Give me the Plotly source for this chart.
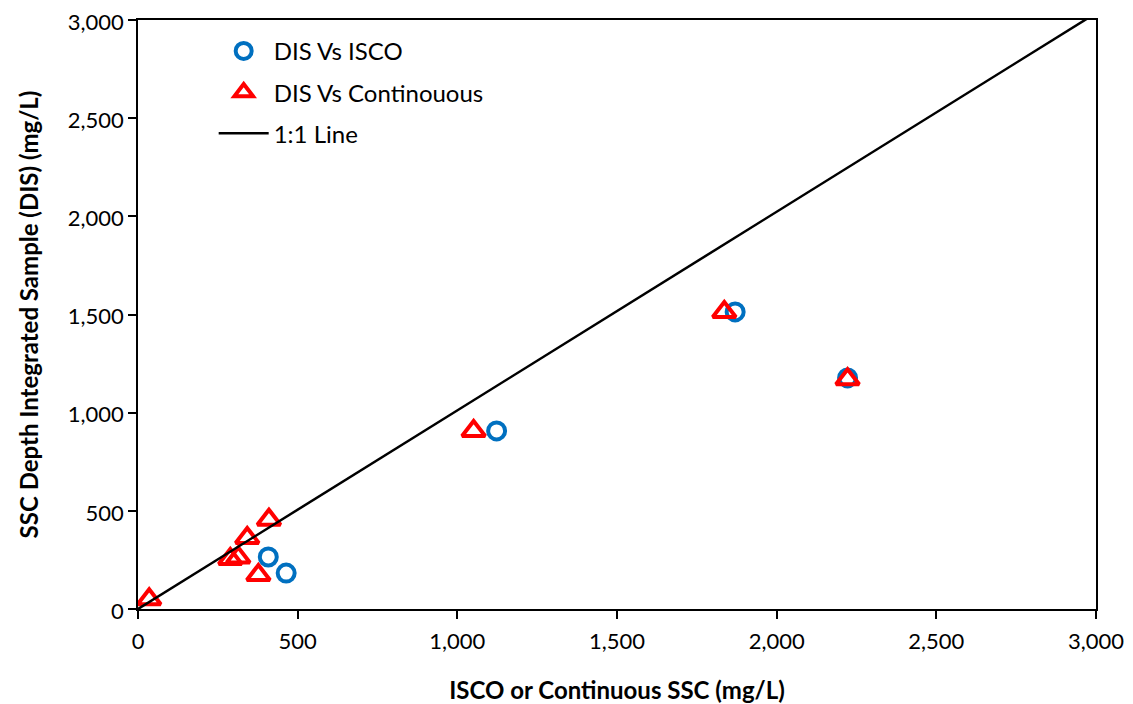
import plotly.graph_objects as go

# DIS vs ISCO
isco_x = [408, 464, 1123, 1870, 2222]
isco_y = [265, 183, 907, 1513, 1177]

# DIS vs Continuous
cont_x = [35, 410, 342, 314, 289, 377, 1051, 1836, 2222]
cont_y = [50, 455, 362, 262, 255, 173, 907, 1513, 1170]

# 1:1 line
line_x = [0, 3000]
line_y = [0, 3035]

tick_vals = [0, 500, 1000, 1500, 2000, 2500, 3000]

FONT = "Lato"

fig = go.Figure()
fig.add_trace(go.Scatter(
    x=isco_x, y=isco_y, mode="markers", name="DIS Vs ISCO",
    legendgroup="a",
    marker=dict(symbol="circle-open", size=17, color="#0070C0",
                line=dict(width=4, color="#0070C0")),
))
fig.add_trace(go.Scatter(
    x=cont_x, y=cont_y, mode="markers", name="DIS Vs Continouous",
    legendgroup="b",
    marker=dict(symbol="triangle-up-open", size=20, color="#FF0000",
                line=dict(width=4, color="#FF0000")),
))
fig.add_trace(go.Scatter(
    x=line_x, y=line_y, mode="lines", name="1:1 Line",
    legendgroup="c",
    line=dict(color="black", width=2.5),
))

axis_common = dict(
    showgrid=False, zeroline=False, automargin=False,
    showline=True, linecolor="black", linewidth=1.5, mirror=True,
    ticks="outside", ticklen=8, tickwidth=1.5, tickcolor="black",
    tickformat=",d", ticklabeloverflow="allow",
    tickfont=dict(family=FONT, size=22, color="black"),
)

fig.update_layout(
    width=1117, height=696,
    margin=dict(l=130, r=29, t=12, b=95),
    paper_bgcolor="white", plot_bgcolor="white",
    font=dict(family=FONT, color="black"),
    xaxis=dict(range=[0, 3000], tickvals=tick_vals, ticklabelstandoff=4,
               title=dict(text="<b>ISCO or Continuous SSC (mg/L)</b>",
                          font=dict(family=FONT, size=24), standoff=36),
               **axis_common),
    yaxis=dict(range=[0, 3000], tickvals=tick_vals, ticklabelshift=2,
               title=dict(text="<b>SSC Depth Integrated Sample (DIS) (mg/L)</b>",
                          font=dict(family=FONT, size=24), standoff=22),
               **axis_common),
    showlegend=True,
    legend=dict(
        x=0.079, y=0.985, xanchor="left", yanchor="top",
        font=dict(family=FONT, size=24, color="black"),
        traceorder="grouped", tracegroupgap=7,
        bgcolor="rgba(0,0,0,0)", itemwidth=50,
    ),
)

fig.write_html("out.html")
